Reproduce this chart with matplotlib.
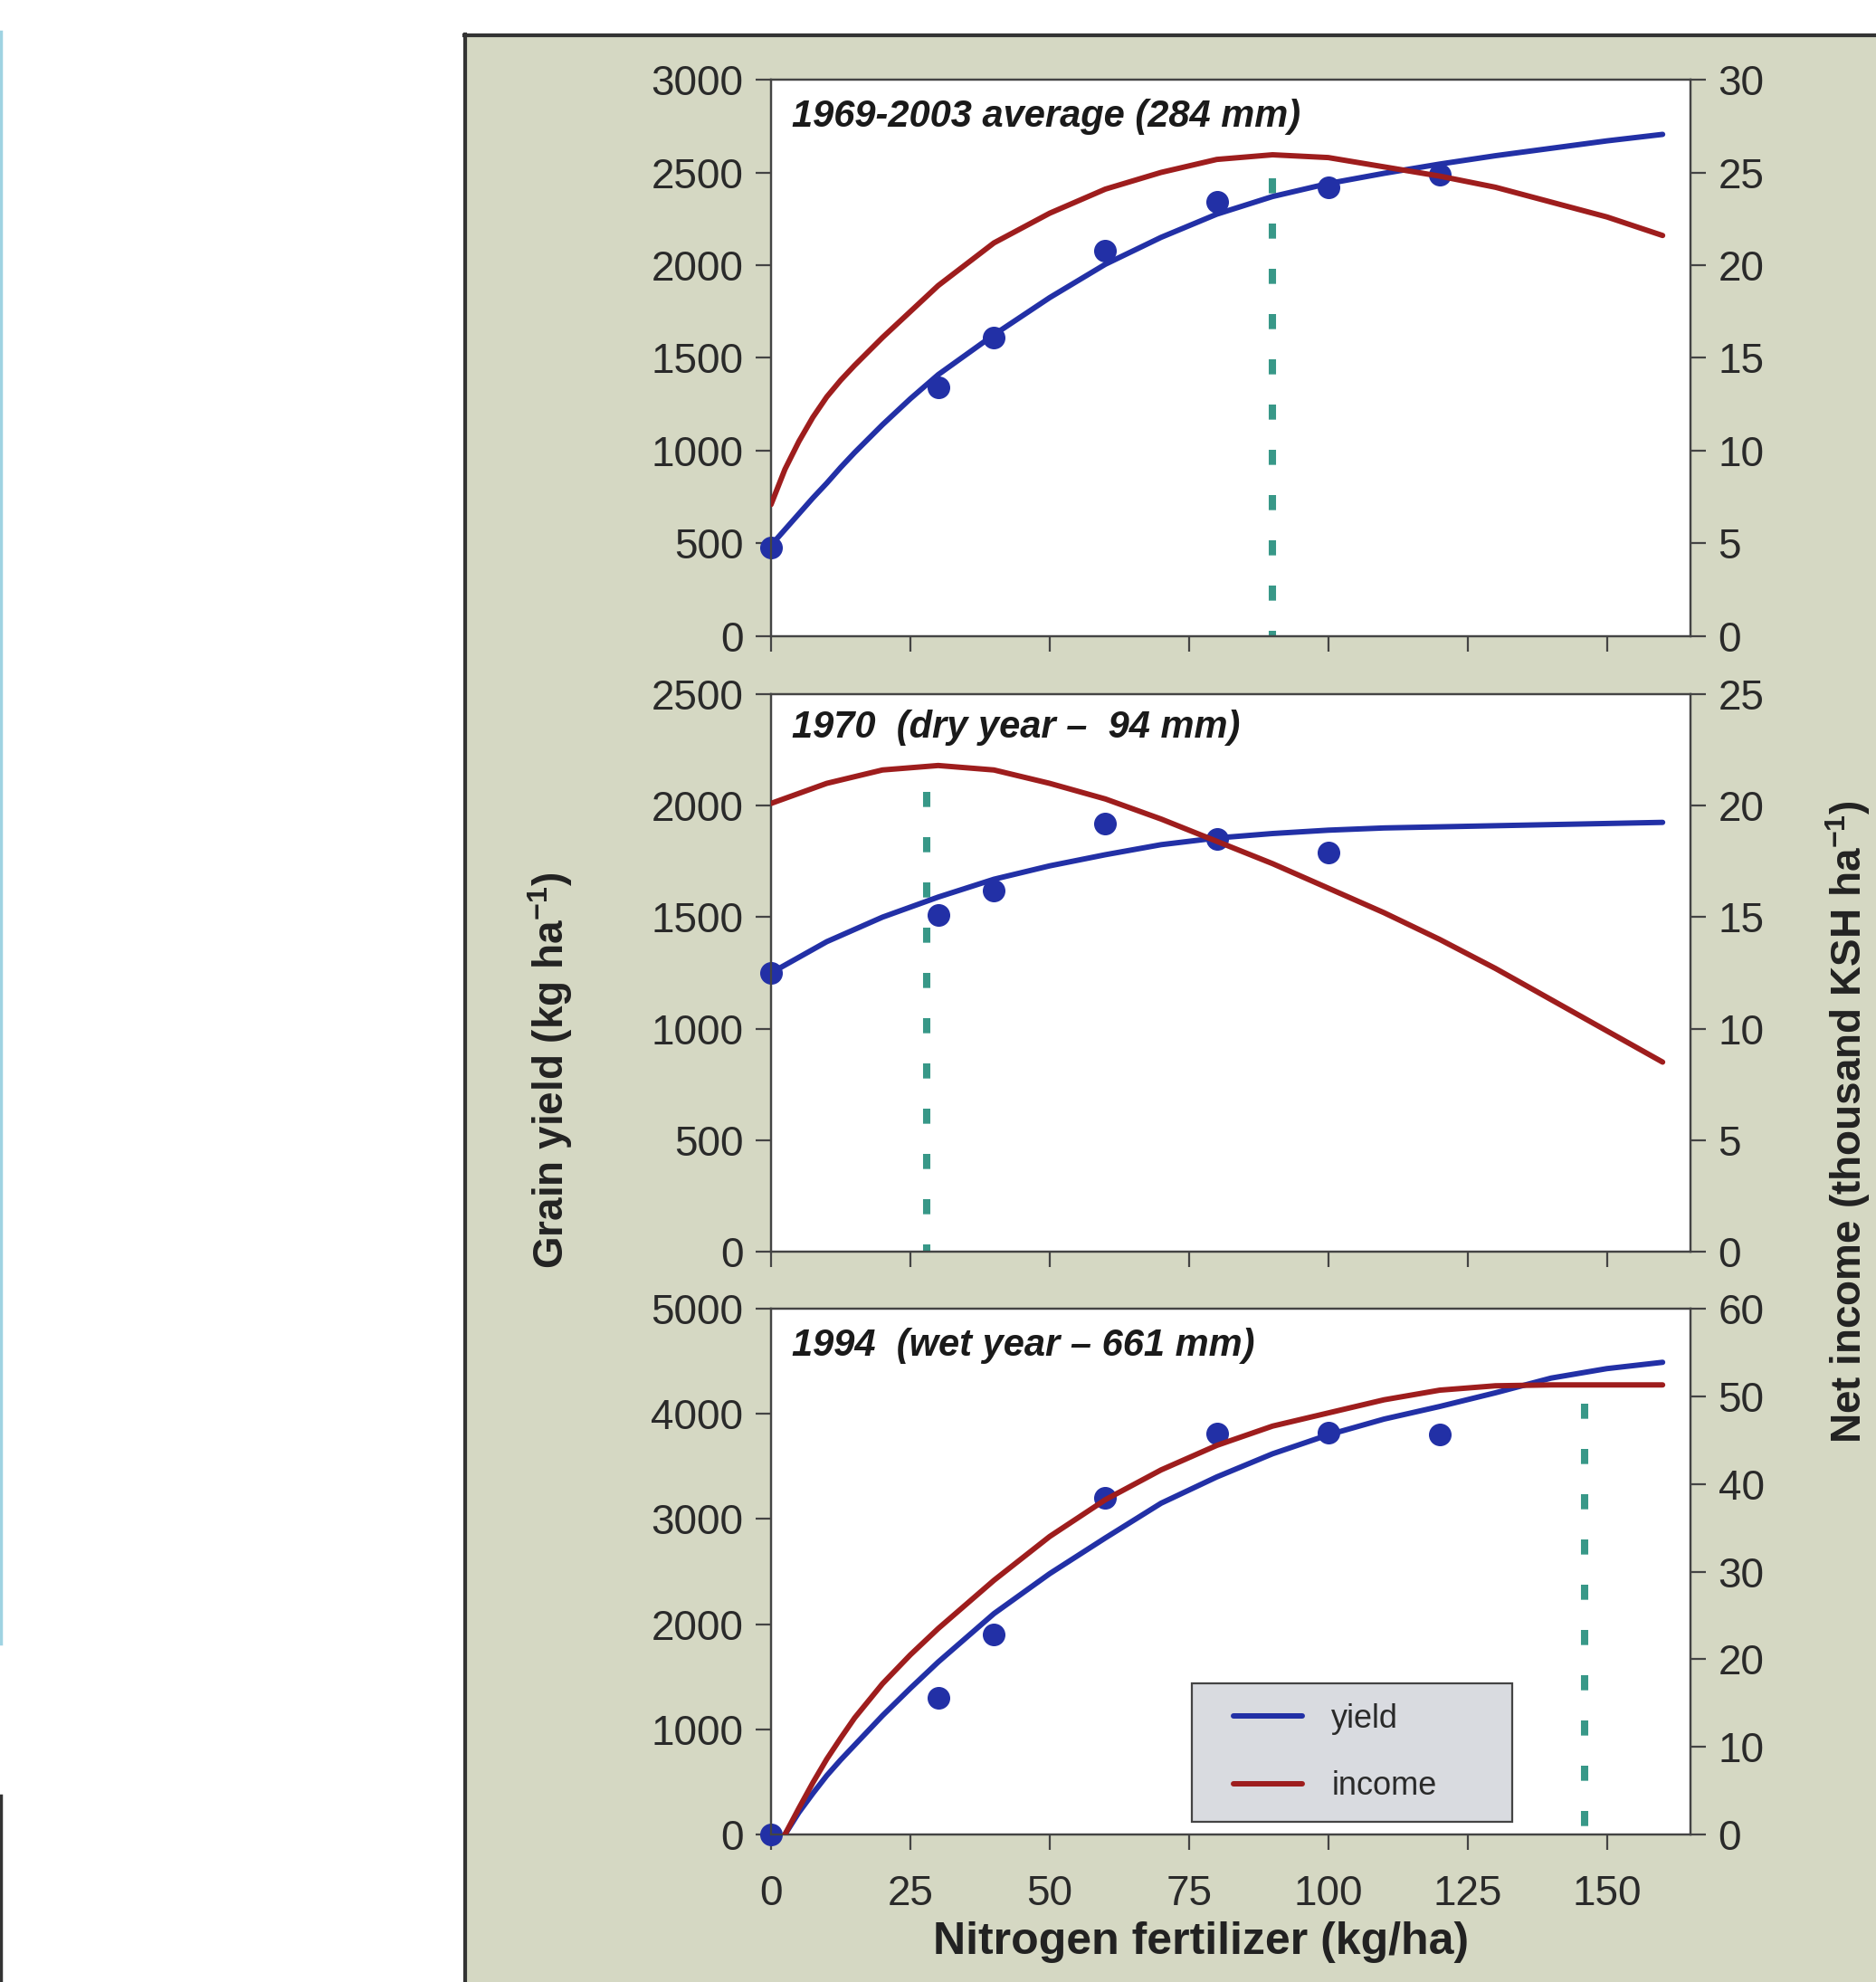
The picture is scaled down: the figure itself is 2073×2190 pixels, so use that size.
import matplotlib
matplotlib.use('Agg')
import matplotlib.pyplot as plt
from matplotlib.lines import Line2D
from matplotlib.patches import Rectangle
from matplotlib.legend_handler import HandlerLine2D

plt.rcParams['lines.scale_dashes'] = False
plt.rcParams['mathtext.fontset'] = 'custom'
plt.rcParams['mathtext.rm'] = 'Liberation Sans'
plt.rcParams['mathtext.bf'] = 'Liberation Sans:bold'

ARIAL = ['Liberation Sans', 'DejaVu Sans']

# ---------------- data ----------------
panel_titles = ['1969-2003 average (284 mm)',
                '1970  (dry year \u2013  94 mm)',
                '1994  (wet year \u2013 661 mm)']

# observed grain yield (kg/ha) at nitrogen rates (kg/ha)
n_obs_avg = [0, 30, 40, 60, 80, 100, 120]
yield_obs_avg = [480, 1340, 1610, 2080, 2340, 2420, 2490]
n_obs_dry = [0, 30, 40, 60, 80, 100]
yield_obs_dry = [1250, 1510, 1620, 1920, 1850, 1790]
n_obs_wet = [0, 30, 40, 60, 80, 100, 120]
yield_obs_wet = [0, 1300, 1900, 3200, 3815, 3820, 3805]

# fitted yield (kg/ha) and net income (thousand KSH/ha) curves
n_curve_avg = [0, 2.5, 5, 7.5, 10, 12.5, 15, 20, 25, 30, 40, 50, 60, 70, 80, 90, 100,
               110, 120, 130, 140, 150, 160]
yield_fit_avg = [490, 575, 660, 745, 825, 910, 990, 1140, 1280, 1410, 1625, 1825, 2005,
                 2150, 2275, 2370, 2440, 2495, 2545, 2590, 2630, 2670, 2705]
income_avg = [7.1, 9.0, 10.5, 11.8, 12.9, 13.8, 14.6, 16.1, 17.5, 18.9, 21.2, 22.8, 24.1,
              25.0, 25.7, 25.95, 25.8, 25.3, 24.8, 24.2, 23.4, 22.6, 21.6]

n_curve_dry = [0, 10, 20, 30, 40, 50, 60, 70, 80, 90, 100, 110, 120, 130, 140, 150, 160]
yield_fit_dry = [1250, 1390, 1500, 1590, 1670, 1730, 1780, 1825, 1855, 1875, 1890, 1900,
                 1905, 1910, 1915, 1920, 1925]
income_dry = [20.1, 21.0, 21.6, 21.8, 21.6, 21.0, 20.3, 19.4, 18.4, 17.4, 16.3, 15.2,
              14.0, 12.7, 11.3, 9.9, 8.5]

n_curve_wet = [2.5, 5, 7.5, 10, 12.5, 15, 20, 25, 30, 40, 50, 60, 70, 80, 90, 100, 110,
               120, 130, 140, 150, 160]
yield_fit_wet = [0, 210, 390, 560, 710, 850, 1130, 1390, 1640, 2100, 2480, 2820, 3150,
                 3400, 3620, 3800, 3950, 4070, 4200, 4340, 4430, 4490]
income_wet = [0, 3.0, 5.9, 8.6, 11.0, 13.3, 17.2, 20.5, 23.5, 29.0, 34.0, 38.2, 41.6,
              44.4, 46.6, 48.1, 49.6, 50.7, 51.2, 51.3, 51.3, 51.3]

# economic optimum N rate and height of the marker line (kg/ha yield scale)
opt_n = [90, 28, 146]
opt_top = [2470, 2060, 4100]

yield_ylim = [3000, 2500, 5000]
yield_step = [500, 500, 1000]
income_ylim = [30, 25, 60]
income_step = [5, 5, 10]
x_ticks = [0, 25, 50, 75, 100, 125, 150]

# ---------------- styling ----------------
BLUE = '#2230a6'
RED = '#9e1d1d'
TEAL = '#389888'
SPINE = '#444444'
TXT = '#2a2a2a'

fig = plt.figure(figsize=(20.73, 21.90), dpi=100)
fig.patch.set_facecolor('white')

# background panel
fig.patches.append(Rectangle((513 / 2073, 0), 1.0, 1 - 38 / 2190, transform=fig.transFigure,
                             facecolor='#d5d8c3', edgecolor='none', zorder=-10))
fig.lines.append(Line2D([514 / 2073, 514 / 2073], [0, 1 - 38 / 2190], transform=fig.transFigure,
                        color='#333333', linewidth=3, zorder=-9))
fig.lines.append(Line2D([513 / 2073, 1.0], [1 - 39 / 2190, 1 - 39 / 2190], transform=fig.transFigure,
                        color='#333333', linewidth=3, zorder=-9))
# cropping remnants at the far left
fig.lines.append(Line2D([1 / 2073, 1 / 2073], [1 - 35 / 2190, 1 - 1816 / 2190], transform=fig.transFigure,
                        color='#9fd3e2', linewidth=2.5, zorder=-9))
fig.lines.append(Line2D([1 / 2073, 1 / 2073], [0, 1 - 1984 / 2190], transform=fig.transFigure,
                        color='#333333', linewidth=2.5, zorder=-9))

positions = [
    [852 / 2073, 1 - 703 / 2190, 1016 / 2073, 615 / 2190],
    [852 / 2073, 1 - 1383 / 2190, 1016 / 2073, 616 / 2190],
    [852 / 2073, 1 - 2027 / 2190, 1016 / 2073, 581 / 2190],
]

obs_n = [n_obs_avg, n_obs_dry, n_obs_wet]
obs_y = [yield_obs_avg, yield_obs_dry, yield_obs_wet]
fit_n = [n_curve_avg, n_curve_dry, n_curve_wet]
fit_y = [yield_fit_avg, yield_fit_dry, yield_fit_wet]
inc_y = [income_avg, income_dry, income_wet]
title_y = [0.933, 0.940, 0.930]

for i in range(3):
    ax = fig.add_axes(positions[i])
    ax.set_facecolor('white')
    ax.set_xlim(0, 165)
    ax.set_ylim(0, yield_ylim[i])
    ax.set_yticks(list(range(0, yield_ylim[i] + 1, yield_step[i])))
    ax.set_xticks(x_ticks)
    for sp in ax.spines.values():
        sp.set_color(SPINE)
        sp.set_linewidth(1.6)
    ax.tick_params(axis='y', direction='out', length=12, width=1.6, color=SPINE, pad=10)
    ax.tick_params(axis='x', direction='out', length=12, width=1.6, color=SPINE, pad=20)
    for lab in ax.get_yticklabels():
        lab.set_fontfamily(ARIAL)
        lab.set_fontsize(33)
        lab.set_color(TXT)
    if i < 2:
        ax.set_xticklabels([])
    else:
        ax.set_xticklabels([str(v) for v in x_ticks])
        for lab in ax.get_xticklabels():
            lab.set_fontfamily(ARIAL)
            lab.set_fontsize(33)
            lab.set_color(TXT)

    yl, = ax.plot(fit_n[i], fit_y[i], color=BLUE, linewidth=4.3, zorder=3,
                  solid_joinstyle='round', solid_capstyle='round')
    ax.plot(obs_n[i], obs_y[i], 'o', color=BLUE, markersize=17, zorder=4, clip_on=False)
    # drawn from the top down so the dash pattern starts at the top
    ax.vlines(opt_n[i], opt_top[i], 0, colors=TEAL, linewidth=5.8,
              linestyles=(0, (12, 24)), zorder=2)
    ax.text(0.023, title_y[i], panel_titles[i], transform=ax.transAxes,
            fontfamily=ARIAL, fontweight='bold', fontstyle='italic', fontsize=30,
            color='#1a1a1a', ha='left', va='center')

    ax2 = ax.twinx()
    ax2.set_ylim(0, income_ylim[i])
    ax2.set_yticks(list(range(0, income_ylim[i] + 1, income_step[i])))
    ax2.patch.set_visible(False)
    for sp in ax2.spines.values():
        sp.set_color(SPINE)
        sp.set_linewidth(1.6)
    ax2.tick_params(axis='y', direction='out', length=12, width=1.6, color=SPINE, pad=10)
    for lab in ax2.get_yticklabels():
        lab.set_fontfamily(ARIAL)
        lab.set_fontsize(33)
        lab.set_color(TXT)
    il, = ax2.plot(fit_n[i], inc_y[i], color=RED, linewidth=4.3, zorder=3,
                   solid_joinstyle='round', solid_capstyle='round')

    if i == 2:
        leg = ax2.legend([yl, il], ['yield', 'income'], loc='lower left',
                         bbox_to_anchor=(0.458, 0.024, 0.348, 0.269), mode='expand',
                         prop=dict(family=ARIAL, size=26), frameon=True, fancybox=False,
                         framealpha=1, handlelength=2.76, handletextpad=0.9,
                         labelspacing=1.1, borderpad=0.6, borderaxespad=0,
                         handler_map={Line2D: HandlerLine2D(xpad=0.66)})
        leg.get_frame().set_facecolor('#d9dbe0')
        leg.get_frame().set_edgecolor('#444444')
        leg.get_frame().set_linewidth(1.6)
        for t in leg.get_texts():
            t.set_color(TXT)

# axis titles
fig.text(608 / 2073, 1 - 1183 / 2190, r'Grain yield (kg ha$^{\mathbf{-1}}$)', rotation=90,
         fontfamily=ARIAL, fontweight='bold', fontsize=33, color='#222222',
         ha='center', va='center')
fig.text(2042 / 2073, 1 - 1240 / 2190, r'Net income (thousand KSH ha$^{\mathbf{-1}}$)', rotation=90,
         fontfamily=ARIAL, fontweight='bold', fontsize=33, color='#222222',
         ha='center', va='center')
fig.text(1327 / 2073, 1 - 2146 / 2190, 'Nitrogen fertilizer (kg/ha)',
         fontfamily=ARIAL, fontweight='bold', fontsize=36, color='#222222',
         ha='center', va='center')

fig.savefig('out.png', dpi=100, facecolor='white')
